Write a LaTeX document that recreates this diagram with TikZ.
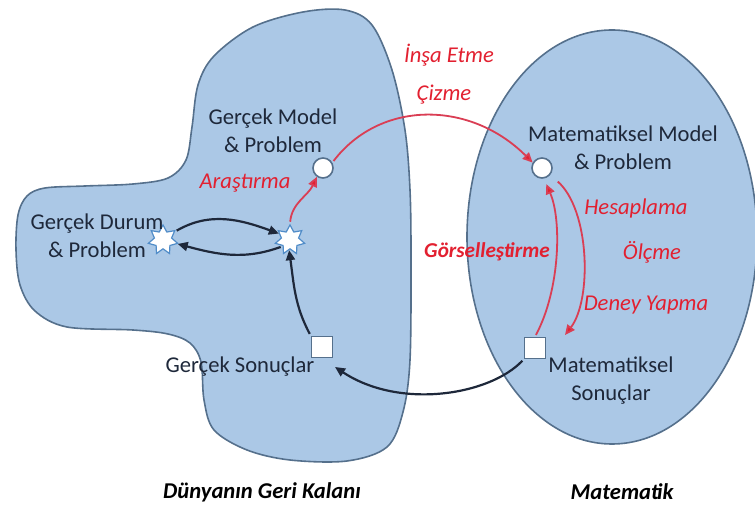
\documentclass[tikz,border=0pt]{standalone}
\usepackage{fontspec}
\setmainfont{Carlito}
\usetikzlibrary{shapes.geometric,arrows.meta}
\definecolor{blobfill}{RGB}{171,200,230}
\definecolor{blobline}{RGB}{85,112,140}
\definecolor{txt}{RGB}{30,40,58}
\definecolor{redtxt}{RGB}{226,32,48}
\definecolor{redline}{RGB}{218,62,84}
\definecolor{starline}{RGB}{80,140,200}
\tikzset{
  blob/.style={fill=blobfill,draw=blobline,line width=0.8pt},
  circ/.style={circle,draw=blobline,fill=white,line width=0.8pt,minimum size=10pt,inner sep=0pt},
  sq/.style={rectangle,draw=blobline,fill=white,line width=0.8pt,minimum size=10.5pt,inner sep=0pt},
  starn/.style={star,star points=7,star point ratio=1.7,draw=starline,fill=white,line width=0.6pt,minimum size=15pt,inner sep=0pt},
  lbl/.style={text=txt,align=center,font=\fontsize{11.3}{14}\selectfont},
  rlbl/.style={text=redtxt,font=\fontsize{11.3}{14}\selectfont\itshape},
  rblbl/.style={text=redtxt,font=\fontsize{10.6}{14}\selectfont\bfseries\itshape},
  blbl/.style={text=black,font=\fontsize{11.3}{14}\selectfont\bfseries\itshape},
  blk/.style={draw=txt,line width=1.1pt,-{Triangle[length=5pt,width=4.5pt]},shorten <=1pt},
  red/.style={draw=redline,line width=0.9pt,-{Triangle[length=5pt,width=4.5pt,fill=redtxt]},shorten <=1pt},
}
\begin{document}
\begin{tikzpicture}[x=0.5pt,y=-0.5pt]
\useasboundingbox (0,0) rectangle (755,507);
\clip (0,0) rectangle (755,507);
% right ellipse
\draw[blob] (612,237) ellipse [x radius=72.5pt, y radius=103.5pt];
% left blob
\draw[blob] plot[smooth cycle, tension=0.55] coordinates {
 (303,12) (345,10) (372,25) (392,70) (405,130) (410,190) (411,260) (410,360)
 (403,412) (387,447) (347,461) (290,460) (247,450) (214,430) (204,400) (201,362)
 (190,343) (168,334) (133,330) (67,327) (35,311) (20,285) (16,250) (18,215)
 (27,196) (45,188) (85,186) (133,184) (168,178) (186,160) (192,127) (198,85)
 (214,56) (253,27)};
% nodes
\node[circ] (gm) at (323,168) {};
\node[circ] (mm) at (542,168) {};
\node[sq] (gs) at (322,347) {};
\node[sq] (ms) at (535,348) {};
\node[starn] (s1) at (163,240) {};
\node[starn] (s2) at (290,240) {};
\coordinate (dyend) at (565,335);
\coordinate (gsend) at (335,367);
% texts
\node[lbl] (tgm) at (273,131) {Gerçek Model\\\& Problem};
\node[lbl] (tgd) at (97,236) {Gerçek Durum\\\& Problem};
\node[lbl] (tgs) at (240,367) {Gerçek Sonuçlar};
\node[lbl] (tmm) at (623,148) {Matematiksel Model\\\& Problem};
\node[lbl] (tms) at (611,381) {Matematiksel\\Sonuçlar};
\node[rlbl] (ar) at (245,183) {Araştırma};
\node[rlbl] (ie) at (449,55) {İnşa Etme};
\node[rlbl] (cz) at (444,95) {Çizme};
\node[rlbl] (hs) at (636,208) {Hesaplama};
\node[rlbl] (ol) at (652,252) {Ölçme};
\node[rlbl] (dy) at (646,305) {Deney Yapma};
\node[rblbl] (gr) at (487,252) {Görselleşt\kern-0.9pt irme};
\node[blbl] (dg) at (262,492) {Dünyanın Geri Kalanı};
\node[blbl] (mt) at (622,492) {Matemat\kern-1pt ik};
% black arrows
\draw[blk] (s1.35) to[out=30,in=160] (s2.150);
\draw[blk] (s2.-140) to[out=-160,in=-15] (s1.-15);
\draw[blk] (gs.north west) to[out=118,in=-82] (s2.-95);
\draw[blk] (ms.south west) .. controls (490,395) and (400,410) .. (gsend);
% red arrows
\draw[red] (s2.90) to[out=85,in=-115] (gm.-125);
\draw[red] (gm.30) .. controls (380,100) and (470,100) .. (mm.150);
\draw[red,shorten <=5pt] (mm.-40) .. controls (590,210) and (592,300) .. (dyend);
\draw[red,shorten >=3pt] (ms.north) .. controls (560,290) and (562,220) .. (mm.-80);
\end{tikzpicture}
\end{document}
